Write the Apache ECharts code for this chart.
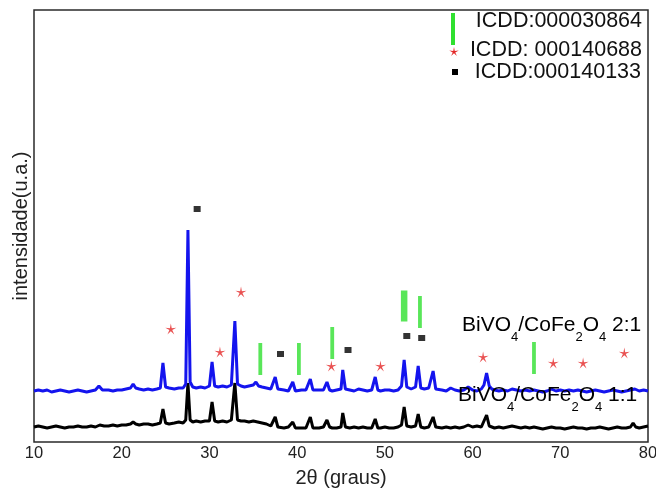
<!DOCTYPE html>
<html><head><meta charset="utf-8">
<script src="https://cdn.jsdelivr.net/npm/echarts@6/dist/echarts.min.js"></script>
<style>html,body{margin:0;padding:0;background:#fff}#c{width:656px;height:495px}</style>
</head><body><div id="c"></div><script>
// 2θ (degrees) vs intensity (a.u.)
const xTickValues = [10, 20, 30, 40, 50, 60, 70, 80];

const sample21 = [
[10,51],[10.5,52],[11,51],[11.5,52],[12,50],[12.5,51],[13,52],[13.5,51],[14,50],[14.5,51],[15,52],[15.5,51],[16,50],[16.5,51],[17,52],[17.4,56],[17.8,52],[18,51],[18.5,52],[19,51],[19.5,52],[20,52],[20.5,53],[21,54],[21.3,58],[21.6,54],[22,53],[22.5,52],[23,53],[23.5,52],[24,53],[24.4,54],[24.7,79],[25.0,55],[25.4,54],[26,53],[26.5,54],[27,54],[27.3,58],[27.55,212],[27.8,60],[28.1,55],[28.5,54],[29,55],[29.5,54],[30,56],[30.3,80],[30.6,56],[31,55],[31.5,56],[32,55],[32.5,57],[32.9,121],[33.2,58],[33.6,56],[34,55],[34.5,56],[35,57],[35.3,60],[35.6,56],[36,55],[36.5,54],[37,53],[37.5,65],[37.8,53],[38,52],[38.5,52],[39,51],[39.5,60],[39.8,51],[40,51],[40.5,52],[41,52],[41.5,63],[41.8,52],[42,51],[42.5,52],[43,52],[43.4,60],[43.7,52],[44,51],[44.5,52],[45,53],[45.2,72],[45.5,53],[46,52],[46.5,51],[47,53],[47.5,52],[48,51],[48.5,52],[48.9,65],[49.2,52],[49.5,51],[50,52],[50.5,52],[51,51],[51.5,52],[51.9,56],[52.2,82],[52.5,55],[53,53],[53.5,55],[53.8,76],[54.1,54],[54.5,53],[55,54],[55.5,71],[55.8,53],[56,52],[56.5,52],[57,51],[57.5,54],[58,52],[58.5,51],[59,52],[59.5,55],[60,52],[60.5,51],[61,53],[61.3,57],[61.6,69],[61.9,56],[62.2,53],[62.5,52],[63,51],[63.5,52],[64,51],[64.5,53],[65,52],[65.5,51],[66,52],[66.5,51],[67,52],[67.5,51],[68,50],[68.5,51],[69,53],[69.5,51],[70,52],[70.5,51],[71,52],[71.5,51],[72,52],[72.5,51],[73,50],[73.5,51],[74,52],[74.5,51],[75,50],[75.5,51],[76,52],[76.5,51],[77,50],[77.5,51],[78,52],[78.5,53],[79,51],[79.5,52],[80,51]
];

const sample11 = [
[10,15],[10.5,16],[11,15],[11.5,14],[12,15],[12.5,16],[13,15],[13.5,14],[14,15],[14.5,15],[15,16],[15.5,15],[16,15],[16.5,16],[17,15],[17.5,17],[18,16],[18.5,16],[19,17],[19.5,16],[20,17],[20.5,17],[21,18],[21.3,20],[21.6,18],[22,17],[22.5,18],[23,18],[23.5,17],[24,18],[24.4,19],[24.7,33],[25.0,19],[25.4,18],[26,19],[26.5,20],[27,19],[27.3,22],[27.55,59],[27.8,22],[28.1,20],[28.5,21],[29,20],[29.5,21],[30,21],[30.3,40],[30.6,21],[31,20],[31.5,21],[32,20],[32.5,22],[32.9,59],[33.2,22],[33.6,21],[34,21],[34.5,20],[35,21],[35.5,20],[36,19],[36.5,18],[37,16],[37.5,25],[37.8,15],[38,14],[38.5,14],[39,15],[39.5,20],[39.8,14],[40,13],[40.5,14],[41,14],[41.5,25],[41.8,14],[42,15],[42.5,14],[43,15],[43.4,22],[43.7,15],[44,14],[44.5,14],[45,15],[45.2,29],[45.5,15],[46,14],[46.5,15],[47,14],[47.5,15],[48,14],[48.5,14],[48.9,23],[49.2,14],[49.5,14],[50,15],[50.5,14],[51,14],[51.5,15],[51.9,17],[52.2,35],[52.5,16],[53,15],[53.5,16],[53.8,28],[54.1,15],[54.5,14],[55,15],[55.5,25],[55.8,15],[56,14],[56.5,14],[57,15],[57.5,14],[58,15],[58.5,14],[59,15],[59.5,17],[60,15],[60.5,16],[61,15],[61.6,27],[61.9,16],[62.2,15],[62.5,14],[63,15],[63.5,14],[64,15],[64.5,16],[65,15],[65.5,14],[66,15],[66.5,14],[67,15],[67.5,14],[68,13],[68.5,14],[69,15],[69.5,14],[70,14],[70.5,13],[71,14],[71.5,15],[72,14],[72.5,14],[73,13],[73.5,14],[74,14],[74.5,15],[75,14],[75.5,13],[76,14],[76.5,15],[77,14],[77.5,14],[78,15],[78.3,19],[78.6,15],[79,14],[79.5,15],[80,16]
];

// reference-pattern markers (2θ, height)
const refBars030864 = [[35.8,83],[40.2,83],[44.0,99],[52.2,136],[54.0,130],[67.0,84]];
const refStars140688 = [[25.6,113],[31.2,90],[33.6,150],[43.9,76],[49.5,76],[61.2,85],[69.2,79],[72.6,79],[77.3,89]];
const refSquares140133 = [[28.6,233],[38.1,88],[45.8,92],[52.5,106],[54.2,104]];

const legendLabels = ['ICDD:000030864', 'ICDD: 000140688', 'ICDD:000140133'];
const sampleLabels = ['BiVO{s|4}/CoFe{s|2}O{s|4} 2:1', 'BiVO{s|4}/CoFe{s|2}O{s|4} 1:1'];

const FONT = 'Liberation Sans, Arial, sans-serif';
const GREEN = '#2fe02f', RED = '#e32626', BLUE = '#1414ee';

function starPoints(R, r) {
  const pts = [];
  for (let k = 0; k < 10; k++) {
    const rr = k % 2 ? r : R;
    const a = -Math.PI / 2 + k * Math.PI / 5;
    pts.push([+(rr * Math.cos(a)).toFixed(2), +(rr * Math.sin(a)).toFixed(2)]);
  }
  return pts;
}
const STAR = 'path://' + starPoints(10, 2.6).map((p, i) => (i ? 'L' : 'M') + p[0] + ',' + p[1]).join('') + 'Z';

const rich = {
  m: { fontSize: 21, lineHeight: 24, fontFamily: FONT, color: '#111' },
  s: { fontSize: 13, lineHeight: 14, padding: [18, 0, 0, 0], verticalAlign: 'top', fontFamily: FONT, color: '#111' }
};
function richText(t) { return t.replace(/(^|\})([^{]+)/g, (m0, a, b) => a + '{m|' + b + '}'); }

const chart = echarts.init(document.getElementById('c'), null, { renderer: 'canvas' });
chart.setOption({
  animation: false,
  textStyle: { fontFamily: FONT },
  grid: { left: 34, right: 8, top: 10, bottom: 53, show: true, borderColor: '#2a2a2a', borderWidth: 1.5, outerBoundsMode: 'none' },
  xAxis: {
    type: 'value', min: 10, max: 80, interval: 10,
    name: '2θ (graus)', nameLocation: 'middle', nameGap: 26,
    nameTextStyle: { fontSize: 20, color: '#222', fontFamily: FONT },
    axisLine: { show: false }, axisTick: { show: false }, splitLine: { show: false },
    axisLabel: { fontSize: 16.5, color: '#222', margin: 3 }
  },
  yAxis: {
    type: 'value', min: 0, max: 432,
    name: 'intensidade(u.a.)', nameLocation: 'middle', nameGap: 3,
    nameTextStyle: { fontSize: 20, color: '#222', fontFamily: FONT },
    axisLine: { show: false }, axisTick: { show: false }, splitLine: { show: false }, axisLabel: { show: false }
  },
  series: [
    { type: 'line', data: sample11, showSymbol: false, lineStyle: { color: '#000', width: 3 }, z: 2 },
    { type: 'line', data: sample21, showSymbol: false, lineStyle: { color: BLUE, width: 3 }, z: 3 },
    { type: 'scatter', data: refBars030864, symbol: 'rect', z: 4, silent: true,
      symbolSize: (v, p) => p.dataIndex === 3 ? [6.5, 31] : [3.8, 32],
      itemStyle: { color: GREEN } },
    { type: 'scatter', data: refStars140688, symbol: STAR, symbolSize: 11, z: 4, silent: true,
      itemStyle: { color: RED } },
    { type: 'scatter', data: refSquares140133, symbol: 'rect', symbolSize: [7, 6], z: 4, silent: true,
      itemStyle: { color: '#000' } }
  ],
  graphic: [
    { type: 'rect', z: 100, shape: { x: 451, y: 13, width: 4, height: 32 }, style: { fill: GREEN } },
    { type: 'polygon', z: 100, x: 454, y: 52, shape: { points: starPoints(5, 1.3) }, style: { fill: RED } },
    { type: 'rect', z: 100, shape: { x: 452, y: 69, width: 6, height: 6 }, style: { fill: '#000' } },
    { type: 'text', z: 100, x: 642, y: 21, style: { text: legendLabels[0], fontSize: 21.5, fontFamily: FONT, fill: '#111', align: 'right', verticalAlign: 'middle' } },
    { type: 'text', z: 100, x: 642, y: 50, style: { text: legendLabels[1], fontSize: 21.5, fontFamily: FONT, fill: '#111', align: 'right', verticalAlign: 'middle' } },
    { type: 'text', z: 100, x: 641, y: 72, style: { text: legendLabels[2], fontSize: 21.5, fontFamily: FONT, fill: '#111', align: 'right', verticalAlign: 'middle' } },
    { type: 'text', z: 100, x: 462, y: 325, style: { text: richText(sampleLabels[0]), rich: rich, align: 'left', verticalAlign: 'middle' } },
    { type: 'text', z: 100, x: 458, y: 395, style: { text: richText(sampleLabels[1]), rich: rich, align: 'left', verticalAlign: 'middle' } }
  ]
});
</script></body></html>
